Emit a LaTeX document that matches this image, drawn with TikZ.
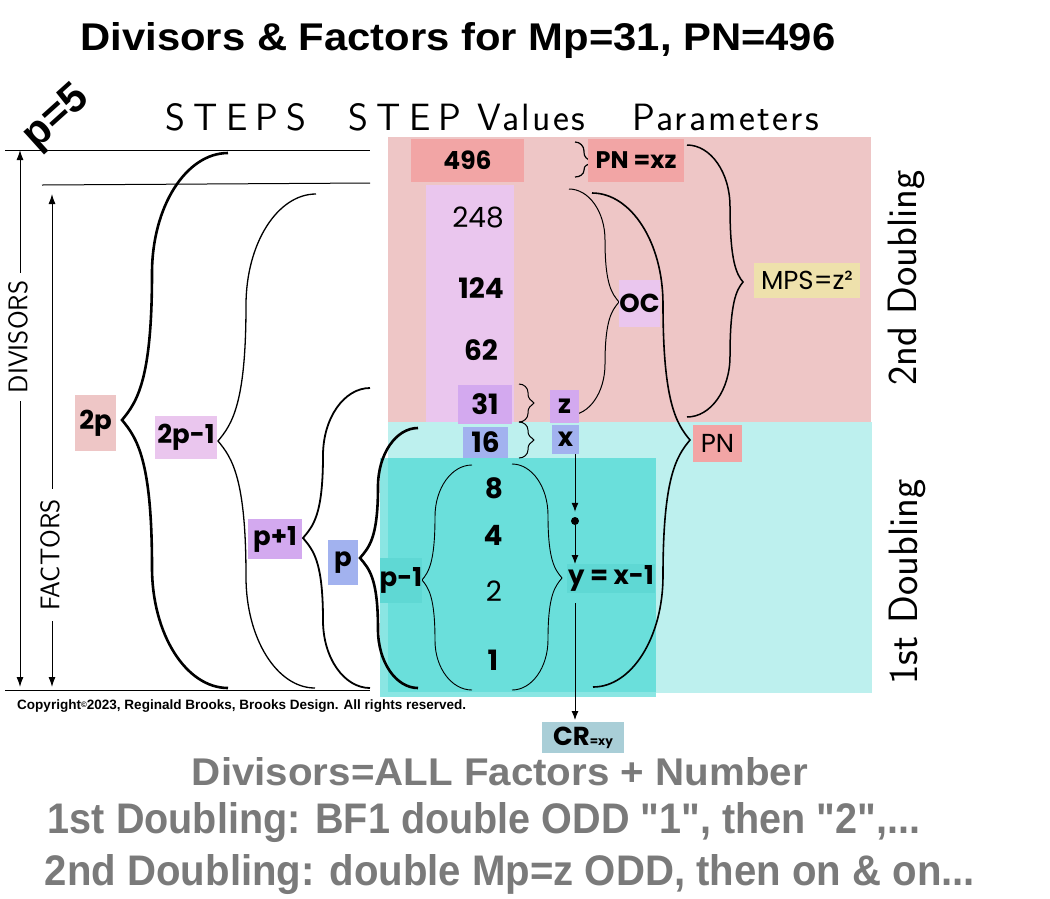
\documentclass[tikz,border=0pt]{standalone}
\usepackage{fontspec}
\usepackage{graphicx}
\setmainfont{Poppins}
\newfontfamily\arialf{Liberation Sans}
\newfontfamily\thinf{Latin Modern Sans}
\newfontfamily\thinw{Latin Modern Sans}[LetterSpace=6]
\newfontfamily\thinsp{Latin Modern Sans}[LetterSpace=22]
\usetikzlibrary{arrows.meta}

\definecolor{pinkbg}{HTML}{EEC6C6}
\definecolor{cyanlt}{HTML}{BDF0EE}
\definecolor{cyandk}{HTML}{6ADFDB}
\definecolor{cyanstrip}{HTML}{8AE6E3}
\definecolor{lav}{HTML}{EAC6EE}
\definecolor{salmon}{HTML}{F2A5A5}
\definecolor{purp}{HTML}{D3A9EF}
\definecolor{peri}{HTML}{A2B2EF}
\definecolor{yel}{HTML}{EEE1AC}
\definecolor{crblue}{HTML}{A9CED7}
\definecolor{ycyan}{HTML}{5FD8D4}
\definecolor{grayt}{HTML}{7A7A7A}

\tikzset{
  lab/.style={font=\fontsize{26}{30}\selectfont\bfseries},
  labr/.style={font=\fontsize{26}{30}\selectfont},
  num/.style={font=\fontsize{28}{32}\selectfont\bfseries, inner sep=0pt},
  numr/.style={font=\fontsize{28}{32}\selectfont, inner sep=0pt},
  thin/.style={font=\thinf\fontsize{41}{44}\selectfont},
  arr/.style={-{Latex[length=9pt,width=7pt]}, line width=1pt},
  darr/.style={{Latex[length=10pt,width=7pt]}-{Latex[length=10pt,width=7pt]}, line width=1pt},
  bottomtxt/.style={font=\arialf\bfseries\fontsize{40}{44}\selectfont, text=grayt, anchor=base, inner sep=0pt},
}

% name, x1, y1, x2, y2, colour, style, text
\newcommand{\tagbox}[8]{\node[fill=#6, #7, inner sep=0pt, outer sep=0pt,
  minimum width={#4-#2}, minimum height={#5-#3}] (#1) at ({(#2+#4)/2},{(#3+#5)/2}) {#8};}

% [opts] xt yt xs xp yp xb yb
\newcommand{\hbrace}[8][]{%
  \draw[#1] (#2,#3)
    .. controls ({#4+0.45*(#2-#4)},#3) and (#4,{#3+0.2*(#6-#3)}) .. (#4,{#3+0.45*(#6-#3)})
    .. controls (#4,{#6-0.15*(#6-#3)}) and ({#5+0.5*(#4-#5)},{#6-0.6*abs(#4-#5)}) .. (#5,#6)
    .. controls ({#5+0.5*(#4-#5)},{#6+0.6*abs(#4-#5)}) and (#4,{#6+0.15*(#8-#6)}) .. (#4,{#6+0.55*(#8-#6)})
    .. controls (#4,{#8-0.2*(#8-#6)}) and ({#4+0.45*(#7-#4)},#8) .. (#7,#8);}

\begin{document}
\begin{tikzpicture}[x=1pt,y=-1pt]
\useasboundingbox (0,0) rectangle (1050,898);
\fill[white] (0,0) rectangle (1050,898);

% background regions
\fill[pinkbg] (388,137) rectangle (871,422);
\fill[cyanlt] (388,422) rectangle (872,693);
\fill[lav] (426,185) rectangle (514,422);
\fill[cyanstrip] (380,458) rectangle (656,697);
\fill[cyandk] (388,458) rectangle (656,692);

% title
\node[font=\arialf\bfseries\fontsize{34}{40}\selectfont, anchor=base, inner sep=0pt] (title) at (458,50)
  {\resizebox{755pt}{28pt}{Divisors \& Factors for Mp=31, PN=496}};

% p=5
\node[font=\arialf\bfseries\fontsize{42}{46}\selectfont, rotate=42, inner sep=0pt] (p5) at (57,118) {p=5};

% headings
\node[font=\thinsp\fontsize{38}{40}\selectfont, anchor=base west, inner sep=0pt] (steps) at (165,130) {STEPS};
\node[font=\thinsp\fontsize{38}{40}\selectfont, anchor=base west, inner sep=0pt] (step) at (348,130) {STEP};
\node[font=\thinw\fontsize{38}{40}\selectfont, anchor=base west, inner sep=0pt] (values) at (477,130) {Values};
\node[font=\thinw\fontsize{38}{40}\selectfont, anchor=base west, inner sep=0pt] (params) at (632,130) {Parameters};

% horizontal lines
\coordinate (h1a) at (5,150); \coordinate (h1b) at (370,150);
\coordinate (h2a) at (42,185); \coordinate (h2b) at (370,183);
\coordinate (h3a) at (5,690); \coordinate (h3b) at (370,690);
\draw[line width=1pt] (h1a) -- (h1b);
\draw[line width=1pt] (h2a) -- (h2b);
\draw[line width=1pt] (h3a) -- (h3b);

% left dimension arrows
\coordinate (dva) at (20,150); \coordinate (dvb) at (20,687);
\coordinate (fca) at (52,194); \coordinate (fcb) at (52,687);
\draw[darr] (dva) -- (dvb);
\draw[darr] (fca) -- (fcb);
\node[font=\thinf\fontsize{27}{30}\selectfont, rotate=90, fill=white, inner xsep=8pt, inner ysep=1pt] (divisors) at (18,337) {DIVISORS};
\node[font=\thinf\fontsize{27}{30}\selectfont, rotate=90, fill=white, inner xsep=10pt, inner ysep=1pt] (factors) at (50,555) {FACTORS};

% braces (left side)
\hbrace[line width=2.6pt]{228}{153}{152}{122}{420}{228}{688}
\hbrace[line width=1.3pt]{316}{194}{246}{218}{441}{315}{688}
\hbrace[line width=1.8pt]{370}{388}{323}{303}{538}{370}{688}
\hbrace[line width=2.6pt]{418}{428}{378}{360}{558}{418}{688}
\hbrace[line width=0.9pt]{472}{465}{435}{422}{580}{472}{690}
\hbrace[line width=0.9pt]{512}{464}{548}{562}{578}{512}{690}
% small braces
\hbrace[line width=1.2pt]{575}{142}{584}{591}{162}{575}{177}
\hbrace[line width=1pt]{519}{384}{528}{534}{403}{519}{422}
\hbrace[line width=1pt]{519}{422}{528}{534}{440}{519}{458}
% right braces
\hbrace[line width=1pt]{569}{189}{605}{619}{302}{570}{415}
\hbrace[line width=1.6pt]{592}{193}{663}{690}{440}{593}{687}
\hbrace[line width=1.5pt]{687}{145}{730}{743}{282}{687}{417}

% step values
\tagbox{b496}{411}{139}{524}{182}{salmon}{font=\fontsize{25}{28}\selectfont\bfseries}{496}
\node[numr] (n248) at (478,217) {248};
\node[num] (n124) at (481,288) {124};
\node[num] (n62) at (481,350) {62};
\tagbox{b31}{458}{385}{512}{424}{purp}{num}{31}
\tagbox{b16}{463}{427}{508}{458}{peri}{num}{16}
\node[num] (n8) at (494,488) {8};
\node[num] (n4) at (493,535) {4};
\node[numr] (n2) at (494,591) {2};
\node[num] (n1) at (493,660) {1};

% parameter tags
\tagbox{bpnxz}{588}{139}{684}{182}{salmon}{font=\fontsize{24}{28}\selectfont\bfseries}{PN =xz}
\tagbox{boc}{619}{280}{660}{327}{lav}{lab}{OC}
\tagbox{bmps}{754}{263}{860}{298}{yel}{labr}{MPS=z²}
\tagbox{bpn}{693}{425}{742}{462}{salmon}{labr}{PN}
\tagbox{bz}{550}{390}{579}{423}{purp}{lab}{z}
\tagbox{bx}{552}{425}{579}{454}{peri}{lab}{x}
\tagbox{by}{567}{564}{655}{593}{ycyan}{lab}{y = x-1}
\tagbox{bcr}{542}{722}{624}{753}{crblue}{lab}{CR{\fontsize{12}{12}\selectfont=xy}}

% step tags
\tagbox{b2p}{75}{395}{116}{451}{pinkbg}{lab}{2p}
\tagbox{b2p1}{155}{416}{217}{459}{lav}{lab}{2p-1}
\tagbox{bp1}{248}{519}{302}{559}{purp}{lab}{p+1}
\tagbox{bp}{328}{540}{358}{585}{peri}{lab}{p}
\tagbox{bpm1}{381}{558}{421}{603}{ycyan}{lab}{p-1}

% arrows x -> y -> CR
\node[circle, fill=black, inner sep=0pt, minimum size=8pt] (dot) at (575,521) {};
\draw[arr] (bx.south -| dot) -- ([yshift=5pt]dot.north);
\draw[arr] (dot.south) -- (dot |- by.north);
\draw[arr, shorten <=10pt] (dot |- by.south) -- ([yshift=2pt]dot |- bcr.north);

% side labels
\node[thin, rotate=90] (dbl2) at (906,278) {2nd Doubling};
\node[thin, rotate=90] (dbl1) at (907,582) {1st Doubling};

% copyright
\node[font=\arialf\bfseries\fontsize{12}{14}\selectfont, anchor=base west, inner sep=0pt] (copy) at (17,709)
  {\resizebox{449pt}{!}{Copyright{\fontsize{7}{7}\selectfont\raisebox{1pt}{©}}2023, Reginald Brooks, Brooks Design. All rights reserved.}};

% bottom notes
\node[bottomtxt] (note1) at (500,785) {\resizebox{616pt}{28pt}{Divisors=ALL Factors + Number}};
\node[bottomtxt] (note2) at (484,833) {\resizebox{872pt}{31pt}{1st Doubling: BF1 double ODD "1", then "2",...}};
\node[bottomtxt] (note3) at (510,885) {\resizebox{930pt}{31pt}{2nd Doubling: double Mp=z ODD, then on \& on...}};
\end{tikzpicture}
\end{document}
